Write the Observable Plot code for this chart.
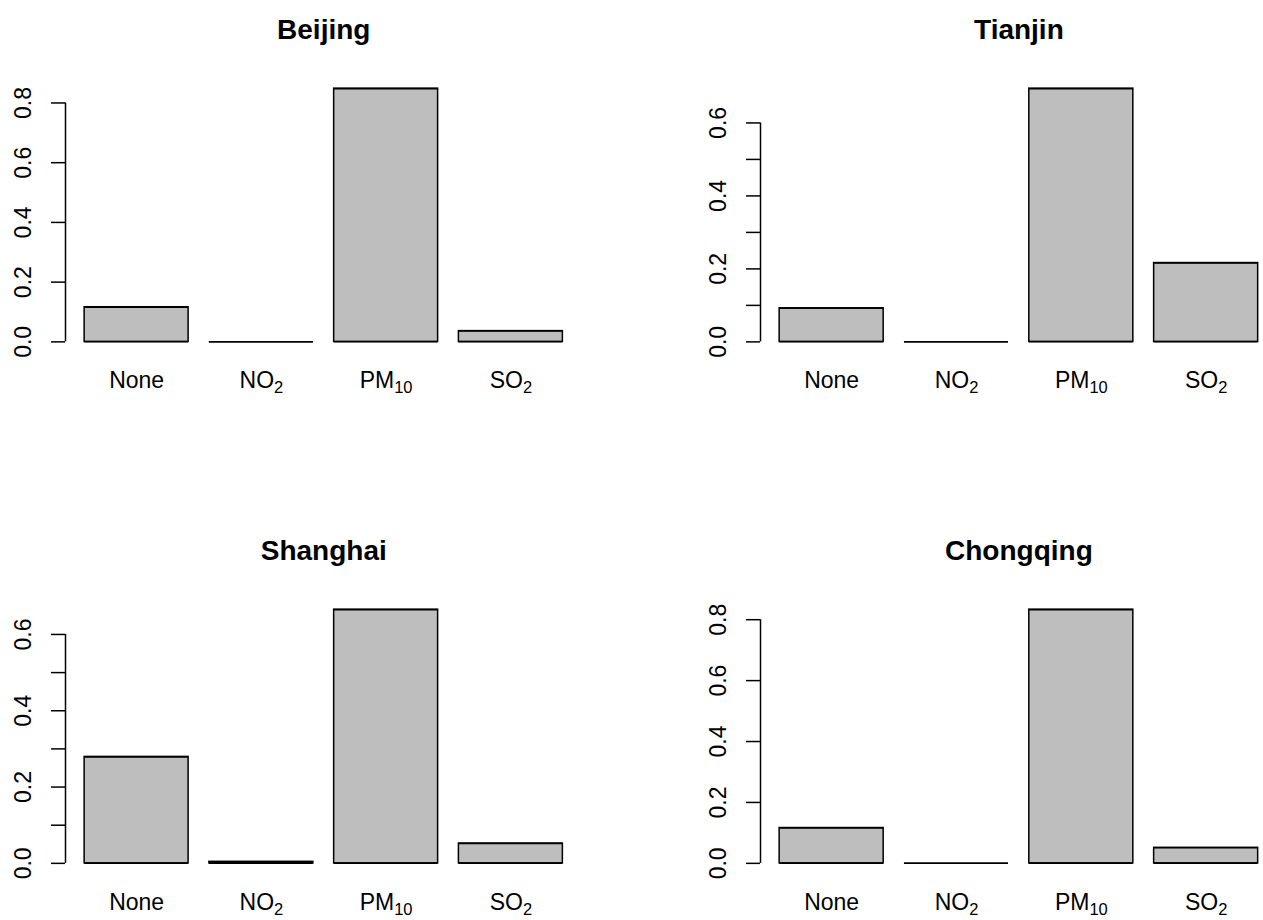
<!DOCTYPE html>
<html><head><meta charset="utf-8">
<script src="https://cdn.jsdelivr.net/npm/d3@7"></script>
<script src="https://cdn.jsdelivr.net/npm/@observablehq/plot@0.6"></script>
<style>
html,body{margin:0;padding:0;background:#fff;overflow:hidden;width:1263px;height:920px;}
#root{position:relative;width:1263px;height:920px;overflow:hidden;background:#fff;}
.panel{position:absolute;}
</style></head><body><div id="root"></div>
<script>
// ---- data ----
const categories = ["None", "NO2", "PM10", "SO2"];
const cities = ["Beijing", "Tianjin", "Shanghai", "Chongqing"];
const beijingValues   = [0.116, 0.000, 0.848, 0.036];
const tianjinValues   = [0.092, 0.000, 0.694, 0.216];
const shanghaiValues  = [0.279, 0.004, 0.665, 0.052];
const chongqingValues = [0.116, 0.000, 0.833, 0.051];
const beijingTicks   = [0, 0.2, 0.4, 0.6, 0.8];
const tianjinTicks   = [0, 0.1, 0.2, 0.3, 0.4, 0.5, 0.6];
const shanghaiTicks  = [0, 0.1, 0.2, 0.3, 0.4, 0.5, 0.6];
const chongqingTicks = [0, 0.2, 0.4, 0.6, 0.8];
const beijingTickLabels   = ["0.0", "0.2", "0.4", "0.6", "0.8"];
const tianjinTickLabels   = ["0.0", "0.2", "0.4", "0.6"];
const shanghaiTickLabels  = ["0.0", "0.2", "0.4", "0.6"];
const chongqingTickLabels = ["0.0", "0.2", "0.4", "0.6", "0.8"];

const seriesValues = [beijingValues, tianjinValues, shanghaiValues, chongqingValues];
const seriesTicks = [beijingTicks, tianjinTicks, shanghaiTicks, chongqingTicks];
const seriesTickLabels = [beijingTickLabels, tianjinTickLabels, shanghaiTickLabels, chongqingTickLabels];

// ---- layout (R barplot style: width 1, space 0.2, 4% axis expansion) ----
const barW = 1, space = 0.2;
const n = categories.length;
const xLo = space, xHi = n * (barW + space);
const xPad = 0.04 * (xHi - xLo);
const xDomain = [xLo - xPad, xHi + xPad];
const xMid = (xDomain[0] + xDomain[1]) / 2;
const mids = categories.map((c, i) => space + i * (barW + space) + barW / 2);

const panels = [
  {left: 0,   top: 0,   width: 631, height: 460, mL: 65,  mR: 49.5, mT: 78,  mB: 108.5},
  {left: 632, top: 0,   width: 650, height: 460, mL: 128, mR: 5.2,  mT: 78,  mB: 108.5},
  {left: 0,   top: 460, width: 631, height: 460, mL: 65,  mR: 49.5, mT: 139, mB: 47},
  {left: 632, top: 460, width: 650, height: 460, mL: 128, mR: 5.2,  mT: 139, mB: 47}
];

const FONT = "'Liberation Sans', Arial, Helvetica, sans-serif";
const SW = 1.5;
const root = document.getElementById("root");

cities.forEach((city, k) => {
  const vals = seriesValues[k];
  const ticks = seriesTicks[k];
  const labs = seriesTickLabels[k];
  const rows = categories.map((c, i) => ({cat: c, value: vals[i],
    x1: space + i * (barW + space), x2: space + i * (barW + space) + barW}));
  const vmax = d3.max(vals);
  const yDomain = [-0.04 * vmax, vmax * 1.04];
  const p = panels[k];

  const chart = Plot.plot({
    width: p.width, height: p.height,
    marginLeft: p.mL, marginRight: p.mR, marginTop: p.mT, marginBottom: p.mB,
    style: {fontFamily: FONT, fontSize: "23px", color: "black", background: "transparent", overflow: "visible"},
    x: {domain: xDomain, axis: null},
    y: {domain: yDomain, axis: null},
    marks: [
      Plot.rect(rows, {x1: "x1", x2: "x2", y1: () => 0, y2: "value",
        fill: "#bebebe", stroke: "black", strokeWidth: SW}),
      // outline top/bottom edges so zero-height bars still show as a line (as in R)
      Plot.ruleY(rows, {x1: "x1", x2: "x2", y: "value", stroke: "black", strokeWidth: SW}),
      Plot.ruleY(rows, {x1: "x1", x2: "x2", y: () => 0, stroke: "black", strokeWidth: SW}),
      Plot.ruleX([xDomain[0]], {y1: () => ticks[0], y2: () => ticks[ticks.length - 1],
        stroke: "black", strokeWidth: SW}),
      Plot.axisY({ticks: ticks, tickSize: 14, tickFormat: () => "", label: null, strokeWidth: SW}),
      Plot.text(labs, {y: d => +d, text: d => d, frameAnchor: "left", dx: -42, rotate: -90,
        textAnchor: "middle", lineAnchor: "middle", fontSize: 23, fill: "black"}),
      Plot.axisX({ticks: mids, tickFormat: d => categories[mids.indexOf(d)], tickSize: 0,
        tickPadding: 20, label: null, fontSize: 23}),
      Plot.text([city], {x: () => xMid, frameAnchor: "top", text: d => d, lineAnchor: "bottom",
        dy: -40, fontSize: 28, fontWeight: "bold", fill: "black"})
    ]
  });

  // subscripts for chemical formulas
  chart.querySelectorAll('g[aria-label="x-axis tick label"] text').forEach(t => {
    const m = t.textContent.match(/^(\D+)(\d+)$/);
    if (m) {
      t.textContent = m[1];
      const ts = document.createElementNS("http://www.w3.org/2000/svg", "tspan");
      ts.setAttribute("dy", "0.3em");
      ts.setAttribute("font-size", "16.5");
      ts.textContent = m[2];
      t.appendChild(ts);
    }
  });

  const div = document.createElement("div");
  div.className = "panel";
  div.style.left = p.left + "px";
  div.style.top = p.top + "px";
  div.style.width = p.width + "px";
  div.style.height = p.height + "px";
  div.appendChild(chart);
  root.appendChild(div);
});
</script>
</body></html>
